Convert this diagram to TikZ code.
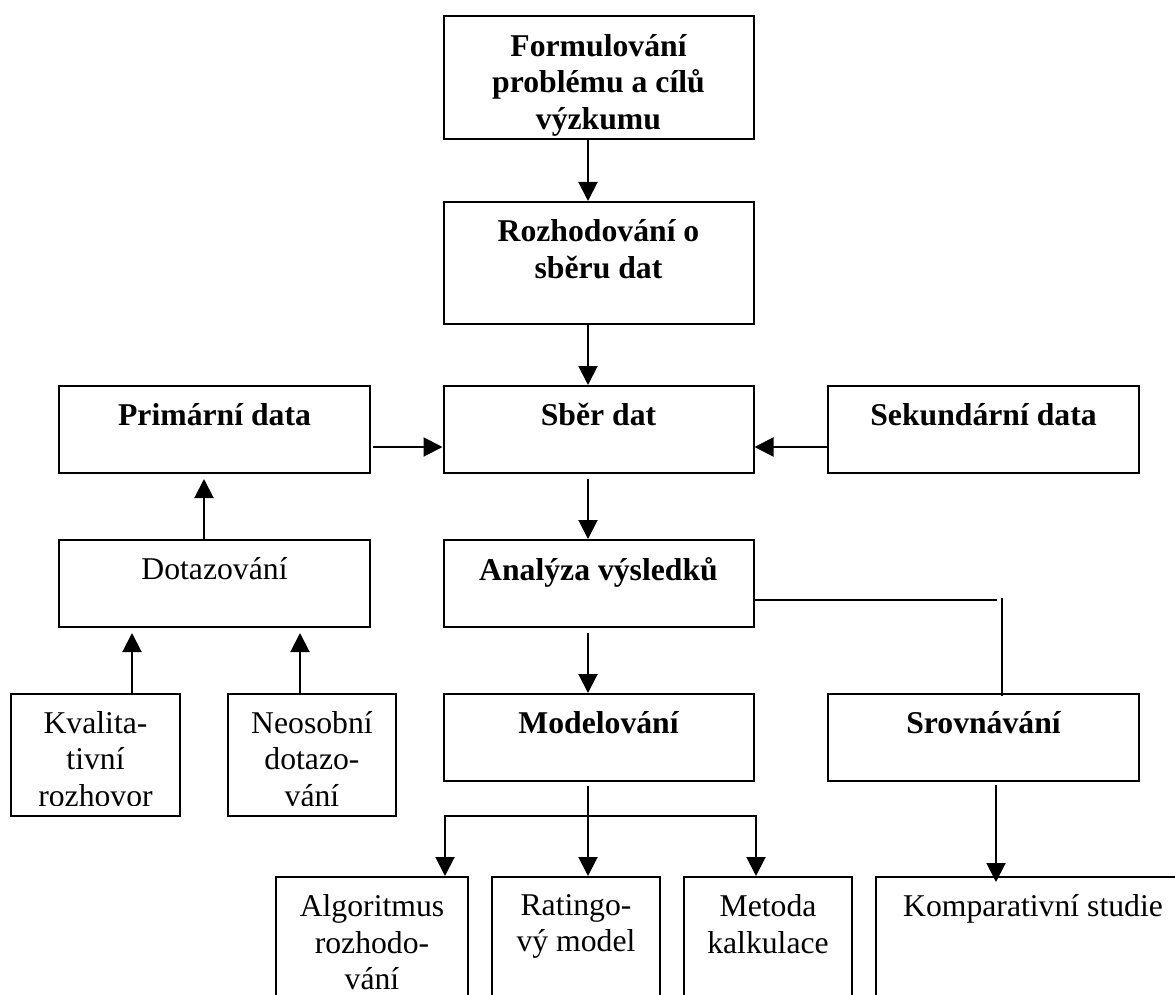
\documentclass[tikz,border=0pt]{standalone}
\usepackage{fontspec}
\setmainfont{Liberation Serif}
\usetikzlibrary{arrows.meta}

\begin{document}
\begin{tikzpicture}[
    x=1pt,
    y=-1pt,
    line width=2pt,
    >={Triangle[length=19pt,width=19pt]},
    ramec/.style={draw,rectangle,inner sep=0pt},
    obycejny/.style={anchor=north,inner sep=0pt,align=center,
        font=\fontsize{31.7}{36.5}\selectfont},
    tucny/.style={obycejny,font=\fontsize{31.7}{36.5}\selectfont\bfseries}
]
    \useasboundingbox (0,0) rectangle (1175,995);
    \clip (0,0) rectangle (1175,995);

    % Hlavni sloupec
    \node[ramec,minimum width=310pt,minimum height=123pt] (form) at (598.5,78) {};
    \node[tucny] (form-t) at ([yshift=-17.5pt]form.north)
        {Formulování\\problému a cílů\\výzkumu};
    \node[ramec,minimum width=310pt,minimum height=122pt] (rozh) at (598.5,263) {};
    \node[tucny] (rozh-t) at ([yshift=-17.5pt]rozh.north) {Rozhodování o\\sběru dat};
    \node[ramec,minimum width=310pt,minimum height=87pt] (sber) at (598.5,429.5) {};
    \node[tucny] (sber-t) at ([yshift=-17.5pt]sber.north) {Sběr dat};
    \node[ramec,minimum width=310pt,minimum height=87pt] (analyza) at (598.5,583.5) {};
    \node[tucny] (analyza-t) at ([yshift=-17.5pt]analyza.north) {Analýza výsledků};
    \node[ramec,minimum width=310pt,minimum height=87pt] (model) at (598.5,737.5) {};
    \node[tucny] (model-t) at ([yshift=-17.5pt]model.north) {Modelování};

    % Zdroje dat
    \node[ramec,minimum width=311pt,minimum height=87pt] (prim) at (214.5,429.5) {};
    \node[tucny] (prim-t) at ([yshift=-17.5pt]prim.north) {Primární data};
    \node[ramec,minimum width=311pt,minimum height=87pt] (sek) at (983.5,429.5) {};
    \node[tucny] (sek-t) at ([yshift=-17.5pt]sek.north) {Sekundární data};
    \node[ramec,minimum width=311pt,minimum height=87pt] (dotaz) at (214.5,583.5) {};
    \node[obycejny] (dotaz-t) at ([yshift=-17.5pt]dotaz.north) {Dotazování};
    \node[ramec,minimum width=311pt,minimum height=87pt] (srov) at (983.5,737.5) {};
    \node[tucny] (srov-t) at ([yshift=-17.5pt]srov.north) {Srovnávání};

    % Formy dotazovani (text orizly ramecem)
    \node[ramec,minimum width=169pt,minimum height=122pt] (kval) at (95.5,754.5) {};
    \node[ramec,minimum width=168pt,minimum height=122pt] (neos) at (312,754.5) {};
    \begin{scope}
        \clip ([yshift=11pt]kval.south west) rectangle (neos.north east);
        \node[obycejny] (kval-t) at ([yshift=-17.5pt]kval.north) {Kvalita-\\tivní\\rozhovor};
        \node[obycejny] (neos-t) at ([yshift=-17.5pt]neos.north) {Neosobní\\dotazo-\\vání};
    \end{scope}

    % Vystupy
    \node[ramec,minimum width=192pt,minimum height=133pt] (alg) at (372,943.5) {};
    \node[obycejny] (alg-t) at ([yshift=-17.5pt]alg.north) {Algoritmus\\rozhodo-\\vání};
    \node[ramec,minimum width=168pt,minimum height=133pt] (rating) at (576,943.5) {};
    \node[obycejny] (rating-t) at ([yshift=-17.5pt]rating.north) {Ratingo-\\vý model};
    \node[ramec,minimum width=168pt,minimum height=133pt] (metoda) at (768,943.5) {};
    \node[obycejny] (metoda-t) at ([yshift=-17.5pt]metoda.north) {Metoda\\kalkulace};
    \node[ramec,minimum width=314pt,minimum height=133pt] (komp) at (1033,943.5) {};
    \node[obycejny] (komp-t) at ([yshift=-17.5pt]komp.north) {Komparativní studie};

    % Sipky hlavniho sloupce
    \draw[->] ([xshift=-10.5pt]form.south) -- ([xshift=-10.5pt]rozh.north);
    \draw[->] ([xshift=-10.5pt]rozh.south) -- ([xshift=-10.5pt]sber.north);
    \draw[->,shorten <=5pt] ([xshift=-10.5pt]sber.south) -- ([xshift=-10.5pt]analyza.north);
    \draw[->,shorten <=5pt] ([xshift=-10.5pt]analyza.south) -- ([xshift=-10.5pt]model.north);

    % Sipky ze zdroju
    \draw[->,shorten <=2pt] ([yshift=-17.5pt]prim.east) -- ([yshift=-17.5pt]sber.west);
    \draw[->] ([yshift=-17.5pt]sek.west) -- ([yshift=-17.5pt]sber.east);
    \draw[->,shorten >=5pt] ([xshift=-10.5pt]dotaz.north) -- ([xshift=-10.5pt]prim.south);
    \draw[->,shorten >=5pt] ([xshift=36.5pt]kval.north) -- ([xshift=36.5pt]kval.north |- dotaz.south);
    \draw[->,shorten >=5pt] ([xshift=-12pt]neos.north) -- ([xshift=-12pt]neos.north |- dotaz.south);

    % Vetveni k srovnavani
    \coordinate (ohyb) at (997,600);
    \coordinate (svisle) at (1002,598);
    \draw ([yshift=-16.5pt]analyza.east) -- (ohyb);
    \draw (svisle) -- ([yshift=-3pt]svisle |- srov.north);
    \draw[->,shorten <=3pt] ([xshift=12.5pt]srov.south)
        -- ([xshift=12.5pt,yshift=-6pt]srov.south |- komp.north);

    % Vetveni modelovani
    \coordinate (vlevo) at (445,816);
    \coordinate (vpravo) at (756,816);
    \draw[->,shorten <=4pt] ([xshift=-10.5pt]model.south) -- ([xshift=-10.5pt]model.south |- rating.north);
    \draw[<->] (vlevo |- alg.north) -- (vlevo) -- (vpravo) -- (vpravo |- metoda.north);
\end{tikzpicture}
\end{document}
